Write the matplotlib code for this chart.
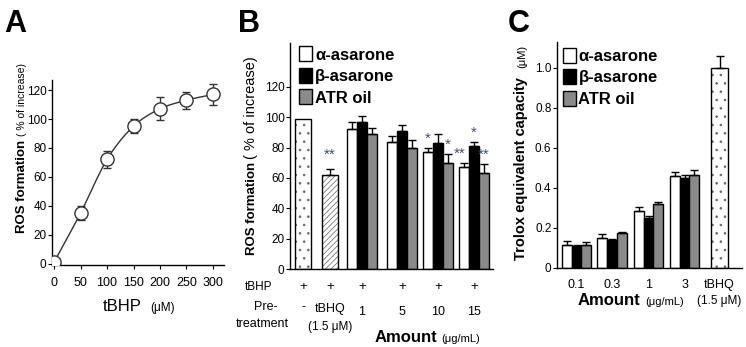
import numpy as np
import matplotlib
matplotlib.use('Agg')
from matplotlib import pyplot as plt

plt.rcParams['font.family'] = ['Liberation Sans', 'DejaVu Sans']
plt.rcParams['hatch.linewidth'] = 0.6

# panel A: tBHP dose response
tbhp = [0, 50, 100, 150, 200, 250, 300]
ros_a = [1, 35, 72, 95, 107, 113, 117]
ros_a_err = [2, 5, 6, 5, 8, 6, 7]

# panel B: ROS formation with pre-treatment
amounts_b = ['1', '5', '10', '15']
ctrl_b, ctrl_b_err = 99, 0
tbhq_b, tbhq_b_err = 62, 4
alpha_b = [92, 84, 77, 67]
alpha_b_err = [5, 4, 3, 3]
beta_b = [97, 91, 83, 81]
beta_b_err = [4, 4, 6, 3]
atr_b = [89, 80, 70, 63]
atr_b_err = [4, 5, 6, 6]
# (series, group index, label)
stars_b = [('tbhq', 0, '**'), ('alpha', 2, '*'), ('atr', 2, '*'),
           ('alpha', 3, '**'), ('beta', 3, '*'), ('atr', 3, '**')]

# panel C: trolox equivalent capacity
amounts_c = ['0.1', '0.3', '1', '3']
alpha_c = [0.115, 0.15, 0.285, 0.46]
alpha_c_err = [0.02, 0.02, 0.02, 0.02]
beta_c = [0.11, 0.14, 0.25, 0.45]
beta_c_err = [0.005, 0.005, 0.01, 0.015]
atr_c = [0.115, 0.175, 0.32, 0.465]
atr_c_err = [0.015, 0.005, 0.01, 0.025]
tbhq_c, tbhq_c_err = 1.0, 0.06

W, H = 746, 347
fig = plt.figure(figsize=(W / 100, H / 100), dpi=100)

def px_axes(l, t, r, b):
    return fig.add_axes([l / W, 1 - b / H, (r - l) / W, (b - t) / H])

def style(ax):
    for s in ['top', 'right']:
        ax.spines[s].set_visible(False)
    for s in ['left', 'bottom']:
        ax.spines[s].set_linewidth(1.0)
    ax.tick_params(direction='out', length=3, width=0.8, labelsize=8.5, pad=1)

def ylabel(x, y0, bold, small, bsize=9.5, ssize=7.5, gap=4):
    t = fig.text(x / W, 1 - y0 / H, bold, rotation=90, rotation_mode='anchor',
                 ha='left', va='baseline', fontsize=bsize, fontweight='bold')
    fig.canvas.draw()
    bb = t.get_window_extent()
    fig.text(x / W, (bb.y1 + gap) / H, small, rotation=90, rotation_mode='anchor',
             ha='left', va='baseline', fontsize=ssize)

def dotted_bar(ax, x, h, w):
    ax.bar(x, h, width=w, color='white', edgecolor='#666666', lw=0, hatch='..')
    ax.bar(x, h, width=w, color='none', edgecolor='black', lw=1)

gray = '#8a8a8a'
star_col = '#44506e'
ekw = dict(ecolor='black', elinewidth=1, capsize=3, capthick=1)
leg_kw = dict(loc='upper left', frameon=False, borderpad=0, borderaxespad=0,
              handlelength=0.8, handleheight=1.0, handletextpad=0.15,
              labelspacing=0.32, prop={'weight': 'bold', 'size': 12})

# ---------------- A ----------------
axA = px_axes(52, 80, 224, 265)
style(axA)
# smooth connecting line (Catmull-Rom)
xs, ys = np.array(tbhp, float), np.array(ros_a, float)
px = np.concatenate([[2 * xs[0] - xs[1]], xs, [2 * xs[-1] - xs[-2]]])
py = np.concatenate([[2 * ys[0] - ys[1]], ys, [2 * ys[-1] - ys[-2]]])
cx, cy = [], []
for i in range(1, len(px) - 2):
    t = np.linspace(0, 1, 20)
    for arr, out in ((px, cx), (py, cy)):
        p0, p1, p2, p3 = arr[i - 1:i + 3]
        out.extend(0.5 * (2 * p1 + (-p0 + p2) * t + (2 * p0 - 5 * p1 + 4 * p2 - p3) * t ** 2
                          + (-p0 + 3 * p1 - 3 * p2 + p3) * t ** 3))
axA.plot(cx, cy, color='#333333', lw=1.0, zorder=2)
axA.errorbar(tbhp, ros_a, yerr=ros_a_err, fmt='none', ecolor='#333333', elinewidth=1,
             capsize=3, capthick=1, zorder=2)
axA.plot(tbhp, ros_a, 'o', mfc='white', mec='#333333', mew=1, ms=9.5, zorder=3)
axA.set_xlim(-4, 321)
axA.set_ylim(-1, 127)
axA.set_xticks(tbhp)
axA.set_yticks(range(0, 121, 20))
axA.tick_params(axis='x', labelsize=9, pad=6)
fig.text(103 / W, 1 - 311 / H, 'tBHP', fontsize=12, ha='left', va='baseline')
fig.text(150 / W, 1 - 311 / H, '(\u03bcM)', fontsize=8.5, ha='left', va='baseline')
ylabel(25, 233, 'ROS formation', '( % of increase)')
fig.text(4 / W, 1 - 32 / H, 'A', fontsize=22, fontweight='bold', ha='left', va='baseline')

# ---------------- B ----------------
axB = px_axes(290, 43, 493, 269)
style(axB)
bw = 10
pos_ctrl, pos_tbhq = 13, 40
grp_b = np.array([72, 112, 148, 184])
dotted_bar(axB, pos_ctrl, ctrl_b, 16)
axB.bar(pos_tbhq, tbhq_b, width=16, color='white', edgecolor='#777777', lw=0, hatch='//////')
axB.bar(pos_tbhq, tbhq_b, width=16, color='none', edgecolor='black', lw=1)
axB.errorbar(pos_tbhq, tbhq_b, yerr=[[0], [tbhq_b_err]], fmt='none', **ekw)
xb = {'alpha': grp_b - bw, 'beta': grp_b, 'atr': grp_b + bw, 'tbhq': [pos_tbhq]}
yb = {'alpha': np.add(alpha_b, alpha_b_err), 'beta': np.add(beta_b, beta_b_err),
      'atr': np.add(atr_b, atr_b_err), 'tbhq': [tbhq_b + tbhq_b_err]}
for key, vals, errs, col, lab in [('alpha', alpha_b, alpha_b_err, 'white', '\u03b1-asarone'),
                                  ('beta', beta_b, beta_b_err, 'black', '\u03b2-asarone'),
                                  ('atr', atr_b, atr_b_err, gray, 'ATR oil')]:
    axB.bar(xb[key], vals, width=bw, color=col, edgecolor='black', lw=1, label=lab)
    axB.errorbar(xb[key], vals, yerr=[np.zeros(len(errs)), errs], fmt='none', **ekw)
for key, gi, lab in stars_b:
    sx = xb[key][gi] - (4 if lab == '**' and key == 'alpha' else 0)
    axB.text(sx, yb[key][gi] + (6 if key != 'tbhq' else 9), lab, color=star_col,
             fontsize=11, ha='center', va='center')
axB.set_xlim(0, 203)
axB.set_ylim(0, 149)
axB.set_yticks(range(0, 121, 20))
axB.set_xticks([])
axB.legend(bbox_to_anchor=(0.045, 0.985), **leg_kw)
tr = axB.get_xaxis_transform()
row_x = [pos_ctrl, pos_tbhq] + list(grp_b)
for x in row_x:
    axB.text(x, -0.08, '+', transform=tr, fontsize=9.5, ha='center', va='center')
axB.text(-0.155, -0.08, 'tBHP', transform=axB.transAxes, fontsize=8.5, ha='center', va='center')
axB.text(-0.12, -0.17, 'Pre-', transform=axB.transAxes, fontsize=9, ha='center', va='center')
axB.text(-0.135, -0.245, 'treatment', transform=axB.transAxes, fontsize=9, ha='center', va='center')
axB.text(pos_ctrl, -0.17, '-', transform=tr, fontsize=9, ha='center', va='center')
axB.text(pos_tbhq, -0.175, 'tBHQ', transform=tr, fontsize=9, ha='center', va='center')
axB.text(pos_tbhq, -0.255, '(1.5 \u03bcM)', transform=tr, fontsize=8.5, ha='center', va='center')
for x, lab in zip(grp_b, amounts_b):
    axB.text(x, -0.19, lab, transform=tr, fontsize=9, ha='center', va='center')
fig.text(375 / W, 1 - 342 / H, 'Amount', fontsize=12, fontweight='bold', ha='left', va='baseline')
fig.text(441 / W, 1 - 342 / H, '(\u03bcg/mL)', fontsize=8, ha='left', va='baseline')
ylabel(255, 255, 'ROS formation', '( % of increase)', ssize=10.5, gap=3)
fig.text(238 / W, 1 - 32 / H, 'B', fontsize=22, fontweight='bold', ha='left', va='baseline')

# ---------------- C ----------------
axC = px_axes(557, 42, 742, 268)
style(axC)
bw = 9.7
grp_c = np.array([19.5, 55, 91.5, 127.5])
pos_tbhq_c = 162.5
for off, vals, errs, col, lab in [(-bw, alpha_c, alpha_c_err, 'white', '\u03b1-asarone'),
                                  (0, beta_c, beta_c_err, 'black', '\u03b2-asarone'),
                                  (bw, atr_c, atr_c_err, gray, 'ATR oil')]:
    axC.bar(grp_c + off, vals, width=bw, color=col, edgecolor='black', lw=1, label=lab)
    axC.errorbar(grp_c + off, vals, yerr=[np.zeros(len(errs)), errs], fmt='none', **ekw)
dotted_bar(axC, pos_tbhq_c, tbhq_c, 17)
axC.errorbar(pos_tbhq_c, tbhq_c, yerr=[[0], [tbhq_c_err]], fmt='none', **ekw)
axC.set_xlim(0, 185)
axC.set_ylim(0, 1.13)
axC.set_yticks([0, 0.2, 0.4, 0.6, 0.8, 1.0])
axC.set_yticklabels(['0', '0.2', '0.4', '0.6', '0.8', '1.0'])
axC.set_xticks(list(grp_c) + [pos_tbhq_c])
axC.set_xticklabels(amounts_c + ['tBHQ'])
axC.tick_params(axis='x', length=0, labelsize=9, pad=8)
axC.text(pos_tbhq_c, -0.145, '(1.5 \u03bcM)', transform=axC.get_xaxis_transform(),
         fontsize=8.5, ha='center', va='center')
axC.legend(bbox_to_anchor=(0.03, 0.975), **leg_kw)
fig.text(578 / W, 1 - 305 / H, 'Amount', fontsize=12, fontweight='bold', ha='left', va='baseline')
fig.text(645 / W, 1 - 305 / H, '(\u03bcg/mL)', fontsize=8, ha='left', va='baseline')
ylabel(525, 260, 'Trolox equivalent capacity', '(\u03bcM)', bsize=10.5, ssize=8, gap=9)
fig.text(508 / W, 1 - 32 / H, 'C', fontsize=22, fontweight='bold', ha='left', va='baseline')

fig.savefig('out.png', dpi=100)
